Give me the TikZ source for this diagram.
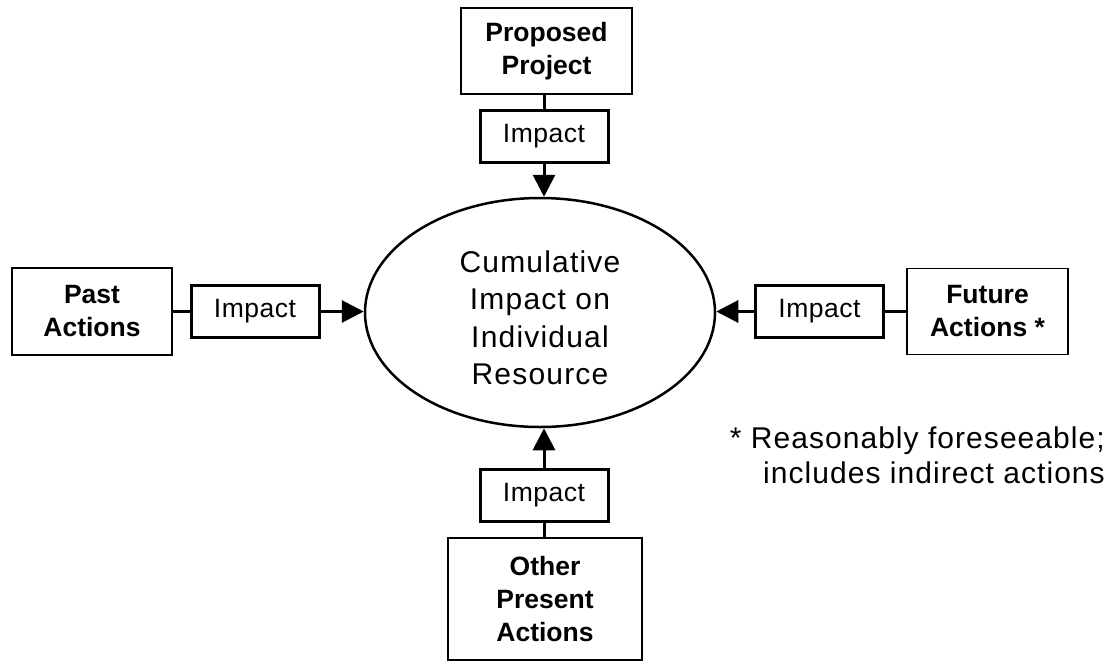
\documentclass[tikz,border=0pt]{standalone}
\usepackage{fontspec}
\setmainfont{Liberation Sans}
\usetikzlibrary{arrows.meta,shapes.geometric}
\begin{document}
\begin{tikzpicture}[x=1pt,y=-1pt,
  srcbox/.style={draw, line width=1.6pt, align=center, inner sep=0pt,
    font=\bfseries\fontsize{26.5}{33}\selectfont},
  impbox/.style={draw, line width=3pt, minimum width=128pt, minimum height=52pt,
    inner sep=0pt, font=\fontsize{26.5}{32}\selectfont\addfontfeature{LetterSpace=2}},
  resnode/.style={draw, ellipse, line width=2.5pt, minimum width=350pt,
    minimum height=229pt, inner sep=0pt},
  restext/.style={align=center, inner sep=0pt,
    font=\fontsize{30}{37.5}\selectfont\addfontfeature{LetterSpace=4}},
  link/.style={line width=3pt},
  arr/.style={line width=3pt, -{Triangle[length=22pt,width=22pt]}},
  notetext/.style={align=right, inner sep=0pt,
    font=\fontsize{30}{35}\selectfont\addfontfeature{LetterSpace=3.5}}
]
\fill[white] (0,0) rectangle (1119,662);
\useasboundingbox (0,0) rectangle (1119,662);

\node[srcbox, minimum width=171pt, minimum height=86pt] (prop) at (546.5,51) {Proposed\\Project};
\node[impbox] (impT) at (544,136.5) {Impact};

\node[resnode] (res) at (540,312.5) {};
\node[restext] (restxt) at (540,318) {Cumulative\\Impact on\\Individual\\Resource};

\node[srcbox, minimum width=160pt, minimum height=87pt] (past) at (92,311.5) {Past\\Actions};
\node[impbox] (impL) at (255,311.5) {Impact};

\node[impbox] (impR) at (819.5,311.5) {Impact};
\node[srcbox, minimum width=161pt, minimum height=86pt] (fut) at (987.5,311.5) {Future\\Actions *};

\node[impbox] (impB) at (544,495.5) {Impact};
\node[srcbox, minimum width=194pt, minimum height=122pt] (oth) at (545,599) {Other\\Present\\Actions};

\node[notetext, anchor=north east] (note) at (1105,427) {* Reasonably foreseeable;\\includes indirect actions};

\draw[link] (impT.north) -- (impT.north |- prop.south);
\draw[arr] (impT.south) -- (impT.south |- res.north);

\draw[link] (past.east) -- (impL.west);
\draw[arr] (impL.east) -- (impL.east -| res.west);

\draw[link] (fut.west) -- (impR.east);
\draw[arr] (impR.west) -- (impR.west -| res.east);

\draw[link] (impB.south) -- (impB.south |- oth.north);
\draw[arr] (impB.north) -- (impB.north |- res.south);
\end{tikzpicture}
\end{document}
